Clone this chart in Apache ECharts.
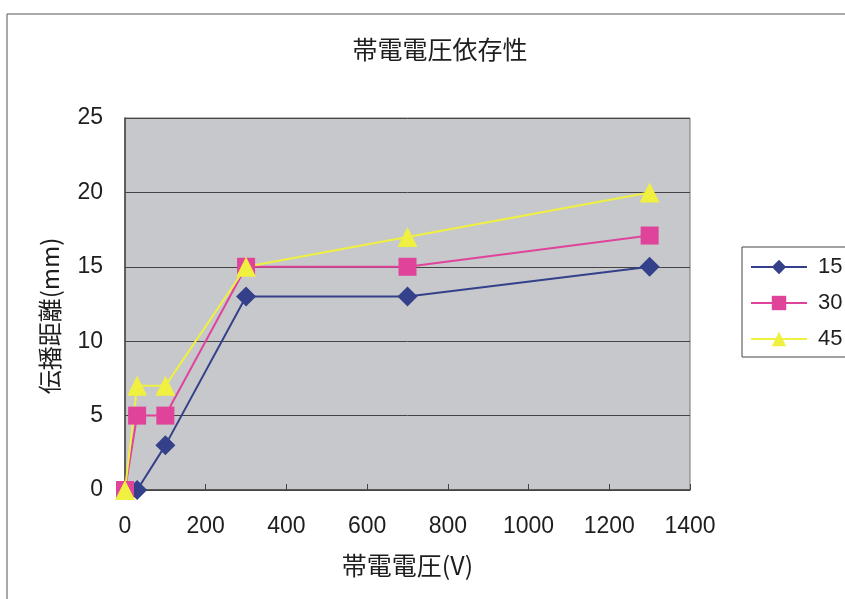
<!DOCTYPE html>
<html>
<head>
<meta charset="utf-8">
<script src="https://cdn.jsdelivr.net/npm/echarts@6/dist/echarts.min.js"></script>
<style>
html,body{margin:0;padding:0;background:#fff;}
#chart{width:845px;height:599px;}
</style>
</head>
<body>
<div id="chart"></div>
<script>
// Charging voltage (V) vs propagation distance (mm)
const seriesNames = ['15', '30', '45'];
const volt15 = [30, 100, 300, 700, 1300];
const dist15 = [0, 3, 13, 13, 15];
const volt30 = [0, 30, 100, 300, 700, 1300];
const dist30 = [0, 5, 5, 15, 15, 17.1];
const volt45 = [0, 30, 100, 300, 700, 1300];
const dist45 = [0, 7, 7, 15, 17, 20];

const pair = (xs, ys) => xs.map((x, i) => [x, ys[i]]);
const font = '"Liberation Sans", "Noto Sans CJK JP", sans-serif';
const cjk = '"Noto Sans CJK JP", "Liberation Sans", sans-serif';

const chart = echarts.init(document.getElementById('chart'));
chart.setOption({
  animation: false,
  backgroundColor: '#fff',
  textStyle: { fontFamily: font },
  title: {
    text: '帯電電圧依存性',
    left: 435, top: 32, textAlign: 'center',
    textStyle: { fontSize: 25, fontWeight: 'normal', color: '#1e1e1e', fontFamily: cjk }
  },
  graphic: [
    {
      type: 'rect', shape: { x: 7, y: 14, width: 845, height: 600 },
      style: { fill: 'none', stroke: '#555', lineWidth: 1 }, silent: true, z: -1
    },
    {
      // vertical axis title
      type: 'text', x: 50, y: 316, rotation: Math.PI / 2,
      style: {
        text: '伝播距離(mm)', font: '24px ' + cjk, fill: '#1e1e1e',
        align: 'center', verticalAlign: 'middle'
      }
    }
  ],
  legend: {
    orient: 'vertical', left: 742, top: 247,
    itemWidth: 56, itemHeight: 18, itemGap: 14,
    padding: [9, 30, 7, 8],
    borderColor: '#444', borderWidth: 1,
    textStyle: { fontSize: 22, color: '#1e1e1e', fontFamily: font, padding: [0, 0, 0, 6] },
    data: seriesNames
  },
  grid: { left: 125, right: 155, top: 118, bottom: 109, show: true, backgroundColor: '#c6c8cb', borderColor: '#777', borderWidth: 1 },
  xAxis: {
    type: 'value', min: 0, max: 1400, interval: 200,
    name: '帯電電圧(V)', nameLocation: 'middle', nameGap: 63,
    nameTextStyle: { fontSize: 25, color: '#1e1e1e', fontFamily: cjk },
    axisLine: { lineStyle: { color: '#444', width: 1.5 } },
    axisTick: { inside: true, length: 6, lineStyle: { color: '#444' } },
    axisLabel: { fontSize: 23, color: '#1e1e1e', margin: 25, formatter: v => String(v) },
    splitLine: { show: false }
  },
  yAxis: {
    type: 'value', min: 0, max: 25, interval: 5,
    axisLine: { show: true, lineStyle: { color: '#444', width: 1.5 } },
    axisTick: { show: false },
    axisLabel: { fontSize: 23, color: '#1e1e1e', margin: 22 },
    splitLine: { lineStyle: { color: '#444', width: 1 } }
  },
  series: [
    {
      name: '15', type: 'line', data: pair(volt15, dist15),
      symbol: 'diamond', symbolSize: 20,
      lineStyle: { color: '#34408a', width: 2 },
      itemStyle: { color: '#34408a' }
    },
    {
      name: '30', type: 'line', data: pair(volt30, dist30),
      symbol: 'rect', symbolSize: 18,
      lineStyle: { color: '#e0449a', width: 2 },
      itemStyle: { color: '#e0449a' }
    },
    {
      name: '45', type: 'line', data: pair(volt45, dist45),
      symbol: 'triangle', symbolSize: 20,
      lineStyle: { color: '#f0f040', width: 2 },
      itemStyle: { color: '#f0f040' }
    }
  ]
});
</script>
</body>
</html>
